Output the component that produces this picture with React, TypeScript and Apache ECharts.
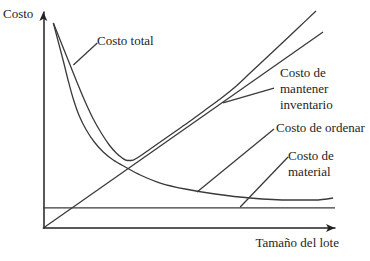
import React, { useEffect, useRef } from "react";
import * as echarts from "echarts";

// Data in chart units (lot size 0..100, cost 0..100)
const orderingCost: number[][] = [
  [3.42, 94.91], [5.14, 86.11], [6.85, 77.31], [8.56, 68.06], [10.27, 59.72], [12.33, 51.85],
  [14.73, 45.37], [17.47, 39.81], [20.55, 35.19], [23.97, 31.48], [28.08, 28.24], [33.22, 24.54],
  [40.07, 20.83], [48.63, 18.06], [58.9, 15.74], [70.89, 13.89], [84.59, 12.96], [93.15, 12.96],
  [99.32, 13.89],
];
const totalCost: number[][] = [
  [3.42, 94.91], [6.16, 85.65], [8.9, 76.39], [11.64, 67.13], [14.38, 58.33], [17.12, 50.46],
  [19.86, 43.98], [22.6, 38.43], [25.0, 34.72], [27.05, 32.41], [28.77, 31.25], [30.82, 31.48],
  [33.22, 33.33], [36.64, 36.57], [40.07, 39.81], [45.21, 44.68], [50.34, 49.54], [55.48, 54.63],
  [60.62, 59.72], [65.75, 65.28], [70.89, 71.76], [76.03, 78.24], [81.16, 84.72], [87.33, 92.59],
  [93.49, 100.46],
];
const holdingCost: number[][] = [[0, 0], [95.9, 90.7]];
const materialCost: number[][] = [[0, 9.3], [100, 9.3]];

// Leader lines (annotation pointers) in chart units
const leaderTotal: number[][] = [[10.3, 75.5], [18.5, 85.6]];
const leaderHolding: number[][] = [[61.6, 57.9], [79.1, 64.8]];
const leaderOrdering: number[][] = [[52.7, 16.7], [79.1, 45.8]];
const leaderMaterial: number[][] = [[67.5, 9.7], [83.9, 32.9]];

const labelTotal = "Costo total";
const labelHolding = "Costo de\nmantener\ninventario";
const labelOrdering = "Costo de ordenar";
const labelMaterial = "Costo de\nmaterial";
const axisX = "Tamaño del lote";
const axisY = "Costo";

const LINE = "#3a3a3a";
const FONT = "Liberation Serif";

function lineSeries(data: number[][], smooth: boolean | number = false) {
  return {
    type: "line",
    data,
    showSymbol: false,
    smooth,
    clip: false,
    silent: true,
    lineStyle: { color: LINE, width: 1.3 },
  };
}

export default function App() {
  const ref = useRef<HTMLDivElement>(null);
  useEffect(() => {
    if (!ref.current) return;
    const chart = echarts.init(ref.current, null, { renderer: "svg" });
    const textStyle = { fontFamily: FONT, fontSize: 13, fill: "#1e1e1e", lineHeight: 16 };
    chart.setOption({
      animation: false,
      backgroundColor: "#ffffff",
      textStyle: { fontFamily: FONT },
      grid: { left: 43, right: 35, top: 12, bottom: 33 },
      xAxis: {
        type: "value",
        min: 0,
        max: 100,
        name: axisX,
        nameLocation: "end",
        nameGap: 0,
        nameTextStyle: {
          fontFamily: FONT, fontSize: 13, color: "#1e1e1e",
          align: "right", verticalAlign: "top", padding: [8, -4, 0, 0],
        },
        axisLine: {
          show: true, symbol: ["none", "arrow"], symbolSize: [6, 9],
          lineStyle: { color: "#222", width: 1.5 },
        },
        axisTick: { show: false },
        axisLabel: { show: false },
        splitLine: { show: false },
      },
      yAxis: {
        type: "value",
        min: 0,
        max: 100,
        name: axisY,
        nameLocation: "end",
        nameGap: -1,
        nameTextStyle: {
          fontFamily: FONT, fontSize: 13, color: "#1e1e1e",
          align: "right", verticalAlign: "middle", padding: [0, 10, 0, 0],
        },
        axisLine: {
          show: true, symbol: ["none", "arrow"], symbolSize: [6, 9],
          lineStyle: { color: "#222", width: 1.5 },
        },
        axisTick: { show: false },
        axisLabel: { show: false },
        splitLine: { show: false },
      },
      series: [
        lineSeries(materialCost),
        lineSeries(holdingCost),
        lineSeries(orderingCost, 0.3),
        lineSeries(totalCost, 0.3),
        lineSeries(leaderTotal),
        lineSeries(leaderHolding),
        lineSeries(leaderOrdering),
        lineSeries(leaderMaterial),
      ],
      graphic: [
        { type: "text", left: 97, top: 32, style: { ...textStyle, text: labelTotal } },
        { type: "text", left: 280, top: 64, style: { ...textStyle, text: labelHolding } },
        { type: "text", left: 276, top: 119, style: { ...textStyle, text: labelOrdering } },
        { type: "text", left: 288, top: 147, style: { ...textStyle, text: labelMaterial } },
      ],
    });
    return () => chart.dispose();
  }, []);
  return <div ref={ref} style={{ width: 370, height: 261, position: "absolute", left: 0, top: 0 }} />;
}
